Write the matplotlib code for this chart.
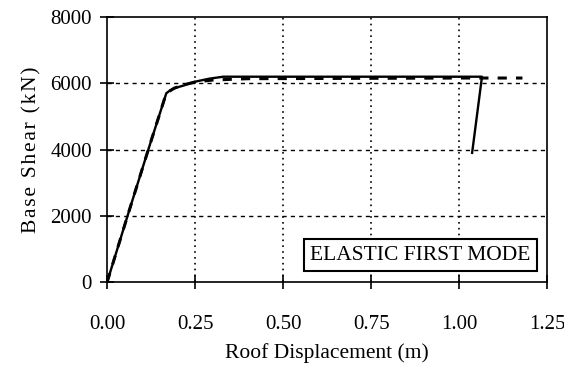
import matplotlib.pyplot as plt

plt.rcParams['font.family'] = ['Liberation Serif', 'DejaVu Serif']

# pushover curve (solid) and idealised curve (dashed)
solid_disp = [0.0, 0.058, 0.117, 0.168, 0.178, 0.19, 0.216, 0.25, 0.29, 0.33, 0.70, 1.065, 1.037]
solid_shear = [0, 2000, 4000, 5700, 5780, 5850, 5930, 6050, 6140, 6200, 6200, 6200, 3900]

dashed_disp = [0.0, 0.058, 0.117, 0.168, 0.19, 0.216, 0.25, 0.30, 0.40, 0.70, 1.00, 1.18]
dashed_shear = [0, 2000, 4000, 5700, 5850, 5950, 6040, 6100, 6140, 6150, 6160, 6160]

x_ticks = [0.0, 0.25, 0.5, 0.75, 1.0, 1.25]
x_tick_labels = ["0.00", "0.25", "0.50", "0.75", "1.00", "1.25"]
y_ticks = [0, 2000, 4000, 6000, 8000]

fig = plt.figure(figsize=(5.64, 3.72), dpi=100)
ax = fig.add_axes([0.19, 0.242, 0.78, 0.712])

ax.plot(dashed_disp, dashed_shear, color="black", lw=2.2, ls=(0, (3, 3)))
ax.plot(solid_disp, solid_shear, color="black", lw=1.7)

ax.set_xlim(0, 1.25)
ax.set_ylim(0, 8000)
ax.set_xticks(x_ticks)
ax.set_xticklabels(x_tick_labels)
ax.set_yticks(y_ticks)

# grid: dashed horizontal, dotted vertical
for yv in y_ticks[1:-1]:
    ax.axhline(yv, color="black", lw=1.0, ls=(0, (3, 3)), zorder=0)
for xv in x_ticks[1:-1]:
    ax.axvline(xv, color="black", lw=1.2, ls=(0, (1, 2.5)), zorder=0)

for sp in ax.spines.values():
    sp.set_linewidth(1.2)

ax.tick_params(direction="inout", length=10, width=1.2, labelsize=15, pad=6)
ax.tick_params(axis="x", pad=19)

ax.set_xlabel("Roof Displacement (m)", fontsize=15.5, labelpad=6)
# letter-spaced y label like the scan
ax.set_ylabel("\u200a".join("Base Shear (kN)"), fontsize=15.5, labelpad=6)

ax.text(0.962, 0.065, "ELASTIC FIRST MODE", transform=ax.transAxes,
        ha="right", va="bottom", fontsize=15.5,
        bbox=dict(boxstyle="square,pad=0.3", fc="white", ec="black", lw=1.5))

plt.savefig("out.png")
